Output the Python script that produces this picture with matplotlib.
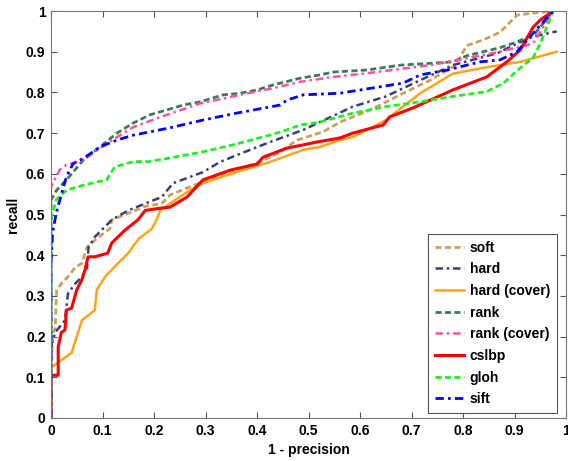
import numpy as np
import matplotlib
matplotlib.use("Agg")
import matplotlib.pyplot as plt

# curvas (x = 1 - precision, y = recall)
soft_x = [0, 0, 0.004, 0.008, 0.011, 0.02, 0.033, 0.047, 0.06, 0.07, 0.085, 0.115, 0.118, 0.15, 0.183,
          0.215, 0.231, 0.27, 0.328, 0.406, 0.445, 0.478, 0.528, 0.561, 0.62, 0.684, 0.736, 0.78, 0.794,
          0.807, 0.839, 0.872, 0.905, 0.936, 0.975]
soft_y = [0, 0.12, 0.21, 0.22, 0.315, 0.33, 0.347, 0.37, 0.38, 0.42, 0.437, 0.466, 0.487, 0.503, 0.52,
          0.527, 0.548, 0.568, 0.597, 0.629, 0.654, 0.683, 0.703, 0.727, 0.757, 0.798, 0.83, 0.862, 0.885,
          0.915, 0.929, 0.948, 0.99, 0.995, 1.0]

hard_x = [0, 0, 0.008, 0.027, 0.033, 0.047, 0.06, 0.07, 0.073, 0.085, 0.105, 0.118, 0.15, 0.183, 0.215,
          0.237, 0.295, 0.328, 0.361, 0.425, 0.49, 0.522, 0.586, 0.65, 0.717, 0.78, 0.866, 0.905, 0.936, 0.982]
hard_y = [0, 0.175, 0.21, 0.24, 0.306, 0.33, 0.347, 0.37, 0.42, 0.445, 0.47, 0.487, 0.51, 0.527, 0.543,
          0.577, 0.604, 0.629, 0.646, 0.678, 0.708, 0.727, 0.765, 0.79, 0.83, 0.867, 0.896, 0.92, 0.937, 0.95]

hardc_x = [0, 0, 0.02, 0.04, 0.05, 0.06, 0.085, 0.089, 0.105, 0.13, 0.15, 0.17, 0.196, 0.205, 0.212,
           0.237, 0.27, 0.295, 0.36, 0.425, 0.49, 0.522, 0.561, 0.586, 0.65, 0.717, 0.78, 0.846, 0.911, 0.982]
hardc_y = [0, 0.123, 0.142, 0.16, 0.2, 0.24, 0.265, 0.315, 0.347, 0.38, 0.405, 0.44, 0.465, 0.487, 0.51,
           0.532, 0.56, 0.577, 0.604, 0.629, 0.659, 0.666, 0.683, 0.69, 0.732, 0.798, 0.846, 0.862, 0.875, 0.9]

rank_x = [0, 0, 0.011, 0.03, 0.063, 0.095, 0.128, 0.16, 0.192, 0.225, 0.257, 0.29, 0.334, 0.367, 0.4,
          0.43, 0.484, 0.522, 0.548, 0.613, 0.678, 0.742, 0.78, 0.807, 0.872, 0.905, 0.94, 0.975]
rank_y = [0, 0.536, 0.56, 0.585, 0.634, 0.666, 0.70, 0.725, 0.745, 0.757, 0.769, 0.777, 0.794, 0.798, 0.806,
          0.818, 0.835, 0.843, 0.85, 0.855, 0.867, 0.872, 0.875, 0.89, 0.91, 0.924, 0.945, 1.0]

rankc_x = [0, 0, 0.017, 0.03, 0.063, 0.095, 0.128, 0.16, 0.225, 0.29, 0.367, 0.43, 0.484, 0.548, 0.613,
           0.742, 0.872, 0.936, 0.975]
rankc_y = [0, 0.568, 0.61, 0.622, 0.634, 0.663, 0.69, 0.715, 0.745, 0.773, 0.794, 0.81, 0.826, 0.838, 0.847,
           0.868, 0.9, 0.92, 1.0]

cslbp_x = [0, 0, 0.014, 0.014, 0.02, 0.027, 0.03, 0.04, 0.05, 0.06, 0.066, 0.072, 0.085, 0.11, 0.118,
           0.13, 0.144, 0.169, 0.183, 0.215, 0.231, 0.264, 0.295, 0.348, 0.4, 0.412, 0.458, 0.516, 0.561,
           0.586, 0.645, 0.658, 0.703, 0.78, 0.846, 0.885, 0.911, 0.936, 0.95, 0.975]
cslbp_y = [0, 0.105, 0.105, 0.175, 0.21, 0.216, 0.265, 0.27, 0.315, 0.34, 0.364, 0.396, 0.396, 0.405, 0.43,
           0.445, 0.462, 0.487, 0.51, 0.516, 0.518, 0.543, 0.585, 0.609, 0.624, 0.641, 0.663, 0.678, 0.688,
           0.70, 0.72, 0.74, 0.762, 0.806, 0.838, 0.875, 0.904, 0.96, 0.978, 1.0]

gloh_x = [0, 0, 0.01, 0.03, 0.063, 0.09, 0.108, 0.115, 0.124, 0.16, 0.19, 0.231, 0.295, 0.353, 0.425,
          0.458, 0.484, 0.522, 0.586, 0.65, 0.717, 0.78, 0.846, 0.878, 0.911, 0.936, 0.95, 0.963, 0.975]
gloh_y = [0, 0.486, 0.536, 0.56, 0.572, 0.58, 0.585, 0.6, 0.617, 0.63, 0.63, 0.639, 0.654, 0.671, 0.695,
          0.708, 0.72, 0.727, 0.749, 0.765, 0.777, 0.79, 0.802, 0.822, 0.86, 0.885, 0.92, 0.961, 1.0]

sift_x = [0, 0, 0.003, 0.01, 0.017, 0.03, 0.043, 0.063, 0.095, 0.128, 0.16, 0.231, 0.295, 0.36, 0.445,
          0.458, 0.49, 0.561, 0.62, 0.684, 0.717, 0.769, 0.833, 0.872, 0.905, 0.936, 0.975]
sift_y = [0, 0.38, 0.455, 0.503, 0.535, 0.593, 0.625, 0.638, 0.666, 0.683, 0.695, 0.713, 0.732, 0.749, 0.769,
          0.781, 0.794, 0.798, 0.81, 0.823, 0.843, 0.855, 0.875, 0.88, 0.9, 0.945, 1.0]

ticklabels = ['0', '0.1', '0.2', '0.3', '0.4', '0.5', '0.6', '0.7', '0.8', '0.9', '1']

plt.rcParams['font.family'] = ['Liberation Sans', 'DejaVu Sans']
plt.rcParams['font.weight'] = 'bold'
plt.rcParams['font.size'] = 10

fig = plt.figure(figsize=(5.68, 4.61), dpi=100)
ax = fig.add_axes([0.0898, 0.0933, 0.9067, 0.8828])

tracejado = (0, (2.2, 1.2))
traco_ponto = (0, (3, 1.5, 1, 1.5))
ax.plot(soft_x, soft_y, color='#cf9f58', lw=2, ls=tracejado, label='soft')
ax.plot(hard_x, hard_y, color='#3a3f78', lw=1.8, ls=traco_ponto, label='hard')
ax.plot(hardc_x, hardc_y, color='#ffa41a', lw=1.8, ls='-', label='hard (cover)')
ax.plot(rank_x, rank_y, color='#3d7a5a', lw=2, ls=tracejado, label='rank')
ax.plot(rankc_x, rankc_y, color='#ff4fa3', lw=1.8, ls=traco_ponto, label='rank (cover)')
ax.plot(cslbp_x, cslbp_y, color='#ff0000', lw=2.2, ls='-', label='cslbp')
ax.plot(gloh_x, gloh_y, color='#22ee22', lw=2, ls=tracejado, label='gloh')
ax.plot(sift_x, sift_y, color='#0000ff', lw=2, ls=traco_ponto, label='sift')

ax.set_xlim(0, 1)
ax.set_ylim(0, 1)
ax.set_xticks(np.arange(0, 1.01, 0.1))
ax.set_yticks(np.arange(0, 1.01, 0.1))
ax.set_xticklabels(ticklabels)
ax.set_yticklabels(ticklabels)
ax.tick_params(direction='in', top=True, right=True, length=4, width=0.8, color='#555555', pad=4)
for s in ax.spines.values():
    s.set_color('#777777')
    s.set_linewidth(0.8)

ax.set_xlabel('1 - precision', fontweight='bold')
ax.set_ylabel('recall', fontweight='bold')

leg = ax.legend(loc='lower right', bbox_to_anchor=(0.9825, 0.012), borderaxespad=0, fancybox=False,
                framealpha=1, edgecolor='#555555', handlelength=2.1, handletextpad=0.4,
                labelspacing=0.55, borderpad=0.5, fontsize=10)
leg.get_frame().set_linewidth(0.8)

fig.savefig('out.png', dpi=100)
